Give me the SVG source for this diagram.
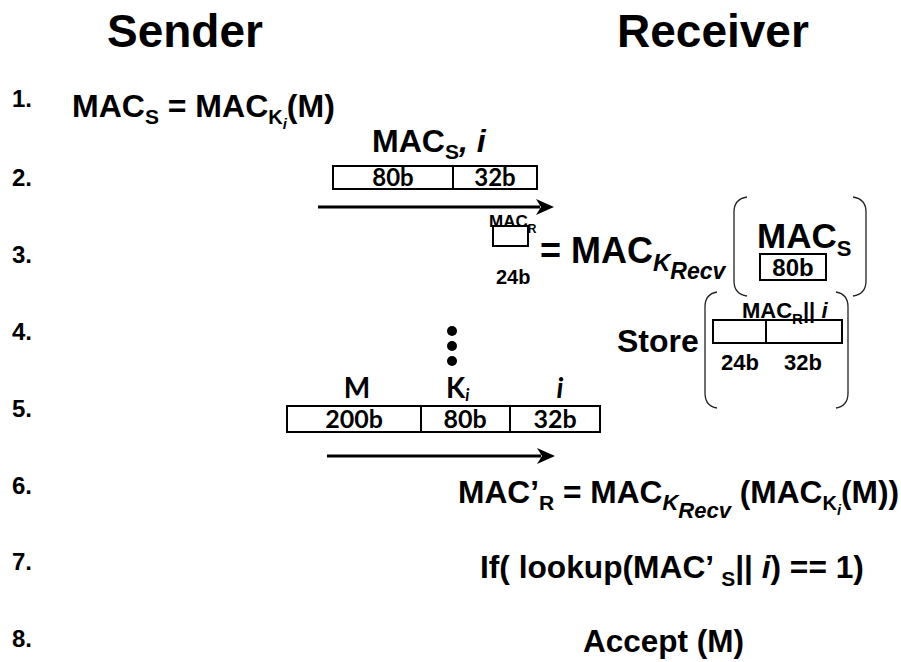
<svg xmlns="http://www.w3.org/2000/svg" width="901" height="662" viewBox="0 0 901 662">
<style>
.a{font-family:"Liberation Sans",Arial,sans-serif;font-weight:bold;fill:#000}
.c{font-family:Lato,"Liberation Sans",sans-serif;font-weight:bold;fill:#000}
.it{font-style:italic}
.box{fill:#fff;stroke:#000;stroke-width:2}
.br{fill:none;stroke:#222;stroke-width:1.3}
.arr{stroke:#000;stroke-width:3;fill:none}
</style>
<defs>
<marker id="ah" markerUnits="userSpaceOnUse" markerWidth="18" markerHeight="16" refX="4" refY="8" orient="auto">
<path d="M0,0 L18,8 L0,16 L5,8 Z" fill="#000"/>
</marker>
</defs>
<rect width="901" height="662" fill="#fff"/>

<g id="headers">
<text class="a" x="107" y="47" font-size="46">Sender</text>
<text class="a" x="617" y="47" font-size="46">Receiver</text>
</g>

<g id="step-numbers" class="a" font-size="24">
<text x="12" y="107">1.</text>
<text x="12" y="186">2.</text>
<text x="12" y="263">3.</text>
<text x="12" y="340">4.</text>
<text x="12" y="417">5.</text>
<text x="12" y="494">6.</text>
<text x="12" y="570">7.</text>
<text x="12" y="647">8.</text>
</g>

<g id="step1">
<text class="a" x="72" y="117" font-size="32">MAC<tspan font-size="21" dy="7">S</tspan><tspan dy="-7"> = MAC</tspan><tspan font-size="20" dy="7">K</tspan><tspan class="it" font-size="15" dy="5">i</tspan><tspan dy="-12">(M)</tspan></text>
</g>

<g id="step2-packet">
<text class="a" x="372" y="152" font-size="32">MAC<tspan font-size="21" dy="7">S</tspan><tspan class="it" dy="-7">, i</tspan></text>
<rect class="box" x="333" y="166" width="204" height="23"/>
<line x1="453" y1="166" x2="453" y2="189" stroke="#000" stroke-width="2"/>
<text class="c" x="393" y="186" font-size="24" text-anchor="middle">80b</text>
<text class="c" x="495" y="186" font-size="24" text-anchor="middle">32b</text>
</g>

<g id="step3-macr">
<rect class="box" x="493" y="226" width="35" height="20"/>
<text class="a" x="489" y="227" font-size="17">MAC<tspan font-size="12" dy="6">R</tspan></text>
<text class="a" x="496" y="284" font-size="20">24b</text>
<text class="a" x="540" y="263" font-size="36">= MAC<tspan class="it" font-size="24" dy="8">K</tspan><tspan class="it" font-size="23" dy="8">Recv</tspan></text>
</g>

<g id="step3-macs">
<path class="br" d="M747,197 Q734,199 734,212 L734,281 Q734,294 747,296"/>
<path class="br" d="M853,197 Q866,199 866,212 L866,281 Q866,294 853,296"/>
<text class="a" x="757" y="248" font-size="35">MAC<tspan font-size="22" dy="8">S</tspan></text>
<rect class="box" x="760" y="254" width="66" height="26"/>
<text class="a" x="793" y="276" font-size="24" text-anchor="middle">80b</text>
</g>

<g id="step4-store">
<text class="a" x="617" y="352" font-size="32">Store</text>
<path class="br" d="M717,292 Q705,294 705,307 L705,393 Q705,406 717,408"/>
<path class="br" d="M836,292 Q848,294 848,307 L848,393 Q848,406 836,408"/>
<text class="a" x="742" y="318" font-size="22">MAC<tspan font-size="15" dy="6">R</tspan><tspan dy="-6">|| </tspan><tspan class="it">i</tspan></text>
<rect class="box" x="713" y="320" width="129" height="23" fill-opacity="0"/>
<line x1="766" y1="320" x2="766" y2="343" stroke="#000" stroke-width="2"/>
<text class="a" x="740" y="370" font-size="22" text-anchor="middle">24b</text>
<text class="a" x="803" y="370" font-size="22" text-anchor="middle">32b</text>
</g>

<g id="ellipsis">
<circle cx="452" cy="331" r="5"/>
<circle cx="452" cy="346" r="5"/>
<circle cx="452" cy="361" r="5"/>
</g>

<g id="step5-packet">
<text class="c" x="357" y="398" font-size="28" text-anchor="middle">M</text>
<text class="c" x="446" y="398" font-size="28">K<tspan class="it" font-size="17" dy="3">i</tspan></text>
<text class="c it" x="560" y="398" font-size="28" text-anchor="middle">i</text>
<rect class="box" x="287" y="406" width="313" height="26"/>
<line x1="421" y1="406" x2="421" y2="432" stroke="#000" stroke-width="2"/>
<line x1="510" y1="406" x2="510" y2="432" stroke="#000" stroke-width="2"/>
<text class="c" x="354" y="428" font-size="25" text-anchor="middle">200b</text>
<text class="c" x="465" y="428" font-size="25" text-anchor="middle">80b</text>
<text class="c" x="555" y="428" font-size="25" text-anchor="middle">32b</text>
</g>

<g id="step6">
<text class="a" x="458" y="503" font-size="31.7">MAC’<tspan font-size="21" dy="7">R</tspan><tspan dy="-7"> = MAC</tspan><tspan class="it" font-size="22" dy="7">K</tspan><tspan class="it" font-size="22" dy="8">Recv</tspan><tspan dy="-15"> (MAC</tspan><tspan font-size="20" dy="7">K</tspan><tspan class="it" font-size="15" dy="5">i</tspan><tspan dy="-12">(M))</tspan></text>
</g>

<g id="step7">
<text class="a" x="480" y="578" font-size="31.7">If( lookup(MAC’ <tspan font-size="21" dy="8">S</tspan><tspan dy="-8">|| </tspan><tspan class="it">i</tspan>) == 1)</text>
</g>

<g id="step8">
<text class="a" x="583" y="652" font-size="31.5">Accept (M)</text>
</g>

<g id="connectors">
<line class="arr" x1="318" y1="207" x2="540" y2="207" marker-end="url(#ah)"/>
<line class="arr" x1="327" y1="456" x2="541" y2="456" marker-end="url(#ah)"/>
</g>
</svg>
